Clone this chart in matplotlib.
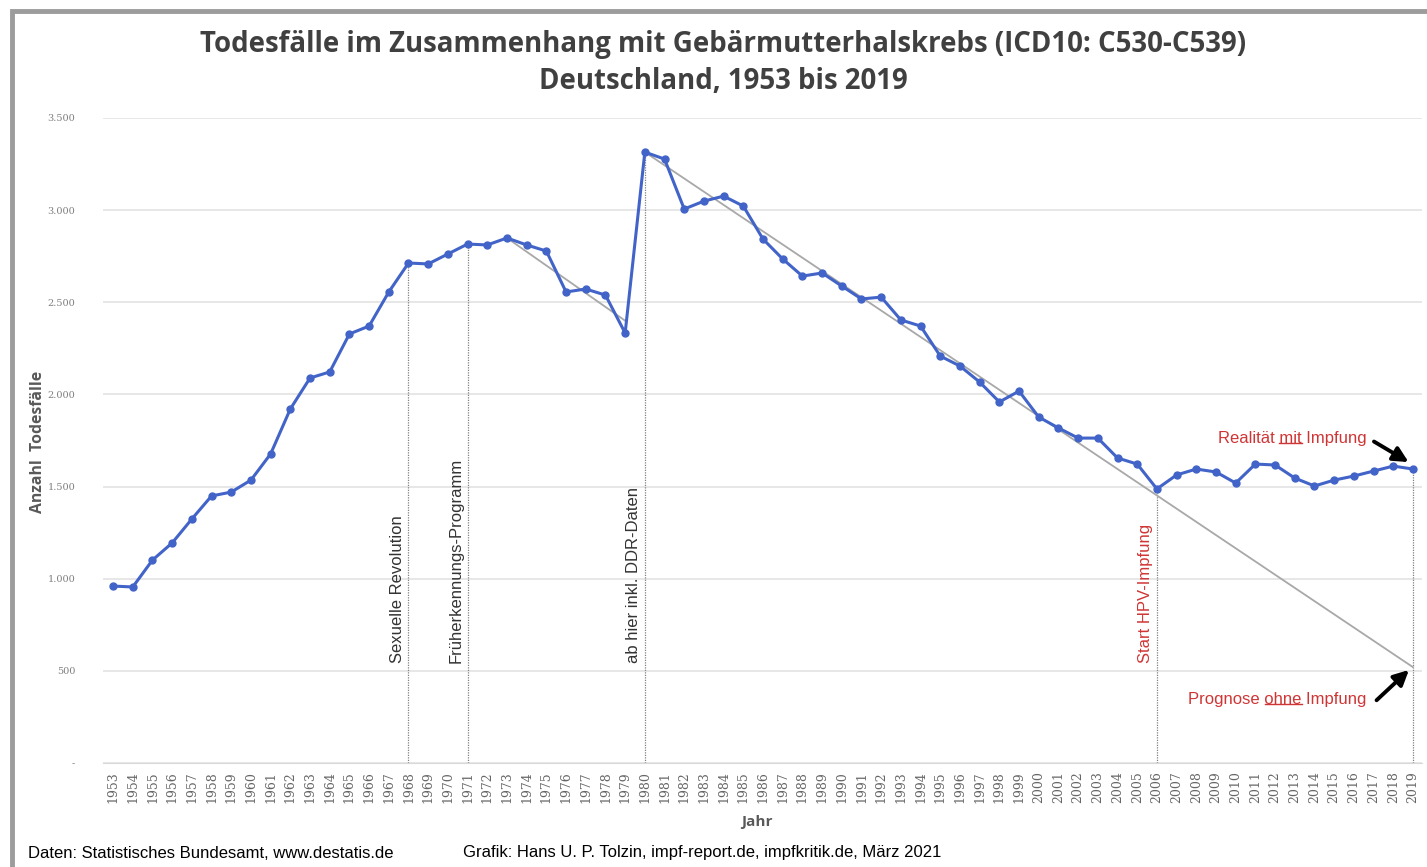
import matplotlib
matplotlib.use("Agg")
from matplotlib import pyplot as plt
from matplotlib.patches import Rectangle
from matplotlib.lines import Line2D
from matplotlib.ticker import FuncFormatter

years = list(range(1953, 2020))
deaths = [960, 955, 1101, 1194, 1324, 1449, 1470, 1535, 1677, 1921,
          2089, 2122, 2328, 2371, 2556, 2713, 2708, 2762, 2816, 2811,
          2849, 2811, 2778, 2556, 2572, 2539, 2333, 3315, 3277, 3006,
          3049, 3076, 3022, 2843, 2735, 2642, 2659, 2588, 2518, 2528,
          2404, 2371, 2208, 2154, 2067, 1959, 2018, 1877, 1818, 1763,
          1763, 1655, 1622, 1487, 1563, 1595, 1579, 1519, 1622, 1617,
          1546, 1503, 1535, 1557, 1584, 1611, 1595]

# grey trend lines (start, end)
trend1_years = [1973, 1979]
trend1_vals = [2849, 2400]
trend2_years = [1980, 2019]
trend2_vals = [3315, 520]

event_years = [1968, 1971, 1980, 2006]
event_labels = ["Sexuelle Revolution", "Früherkennungs-Programm",
                "ab hier inkl. DDR-Daten", "Start HPV-Impfung"]
event_colors = ["#333333", "#333333", "#333333", "#d03535"]

BLUE = "#4264c8"
RED = "#d03535"
GREY = "#7f7f7f"
NOTE_SIZE = 12

fig = plt.figure(figsize=(14.27, 8.67), dpi=100)
ax = fig.add_axes([0.0722, 0.12, 0.9243, 0.7439])

ax.set_xlim(1952.49, 2019.46)
ax.set_ylim(0, 3500)
ax.set_yticks(range(0, 3501, 500))
ax.yaxis.set_major_formatter(FuncFormatter(
    lambda v, p: "-" if v == 0 else f"{int(v):,}".replace(",", ".")))
ax.set_xticks(years)
ax.set_xticklabels([str(y) for y in years], rotation=90)
ax.tick_params(axis='x', length=0, pad=6, labelsize=9, labelcolor="#666666")
ax.tick_params(axis='y', length=0, pad=20, labelsize=7, labelcolor=GREY)
for lab in ax.get_xticklabels() + ax.get_yticklabels():
    lab.set_family("DejaVu Serif")

ax.grid(axis='y', color="#e3e3e3", lw=1.2)
ax.set_axisbelow(True)
for s in ["top", "right", "left"]:
    ax.spines[s].set_visible(False)
ax.spines["bottom"].set_color("#d9d9d9")

# dotted markers down to the axis
ax.vlines(event_years + [2019],
          0, [deaths[years.index(y)] for y in event_years] + [deaths[-1]],
          colors="#808080", linestyles=(0, (1, 1)), lw=0.9, zorder=1)

ax.plot(trend1_years, trend1_vals, color="#a8a8a8", lw=1.3, zorder=2)
ax.plot(trend2_years, trend2_vals, color="#a8a8a8", lw=1.3, zorder=2)

ax.plot(years, deaths, 'o-', color=BLUE, lw=2.2, markersize=5, zorder=3)

for y, lab, c in zip(event_years, event_labels, event_colors):
    ax.text(y - 0.2, 540, lab, rotation=90, ha='right', va='bottom',
            fontsize=NOTE_SIZE, color=c, family="Liberation Sans")

note_kw = dict(ha='right', va='center', fontsize=NOTE_SIZE, color=RED,
               family="Liberation Sans")
notes = [(2016.65, 1763, "Realität ", "mit", " Impfung"),
         (2016.65, 345, "Prognose ", "ohne", " Impfung")]
note_texts = []
for x, y, pre, word, post in notes:
    t = ax.text(x, y, pre + word + post, **note_kw)
    note_texts.append((t, pre, word))

arrow_kw = dict(arrowstyle="-|>,head_length=0.9,head_width=0.45",
                color="black", lw=2.8)
ax.annotate("", xy=(2018.9, 1625), xytext=(2016.9, 1752), arrowprops=arrow_kw)
ax.annotate("", xy=(2018.9, 515), xytext=(2017.05, 330), arrowprops=arrow_kw)

fig.text(0.507, 0.949, "Todesfälle im Zusammenhang mit Gebärmutterhalskrebs (ICD10: C530-C539)",
         ha='center', va='center', fontsize=19.9, fontweight='bold',
         color="#404040", family="Open Sans")
fig.text(0.507, 0.906, "Deutschland, 1953 bis 2019",
         ha='center', va='center', fontsize=19.9, fontweight='bold',
         color="#404040", family="Open Sans")

fig.text(38 / 1427, 1 - 442 / 867, "Anzahl  Todesfälle", rotation=90,
         ha='center', va='center', fontsize=11.3, fontweight='bold',
         color="#595959", family="Open Sans")
fig.text(757 / 1427, 1 - 822 / 867, "Jahr", ha='center', va='center',
         fontsize=11, fontweight='bold', color="#595959", family="Open Sans")

fig.text(28 / 1427, 1 - 853 / 867, "Daten: Statistisches Bundesamt, www.destatis.de",
         ha='left', va='center', fontsize=12, color="black", family="Liberation Sans")
fig.text(463 / 1427, 1 - 853 / 867,
         "Grafik: Hans U. P. Tolzin, impf-report.de, impfkritik.de, März 2021",
         ha='left', va='center', fontsize=12, color="black", family="Liberation Sans")

# frame of the original screenshot
fig.add_artist(Rectangle((12 / 1427, -0.05), 1.2, 1.05 - 11 / 867, fill=False,
                         ec="#9c9c9c", lw=3.5, transform=fig.transFigure))

# underline the key word of each red note
fig.canvas.draw()
r = fig.canvas.get_renderer()


def text_width(s):
    tmp = fig.text(0, 0, s, fontsize=NOTE_SIZE, family="Liberation Sans")
    w = tmp.get_window_extent(r).width
    tmp.remove()
    return w


inv = fig.transFigure.inverted()
for t, pre, word in note_texts:
    bb = t.get_window_extent(r)
    x_end = bb.x0 + text_width(pre + word)
    x_start = x_end - text_width(word)
    yb = bb.y0 + 2.5
    (fx0, fy), (fx1, _) = inv.transform([(x_start, yb), (x_end, yb)])
    fig.add_artist(Line2D([fx0, fx1], [fy, fy], color=RED, lw=1,
                          transform=fig.transFigure))

fig.savefig("out.png", dpi=100)
